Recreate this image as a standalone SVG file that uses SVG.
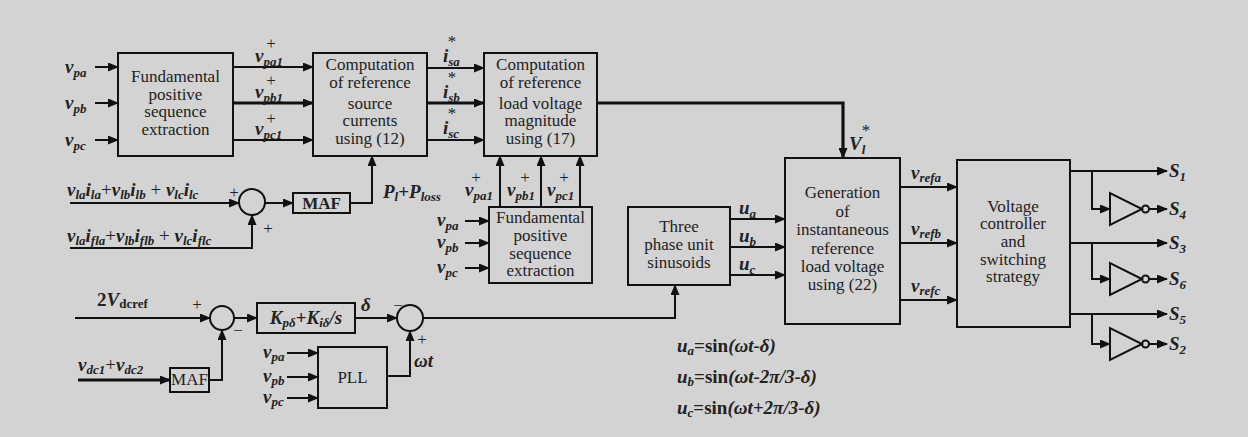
<svg xmlns="http://www.w3.org/2000/svg" width="1248" height="437" viewBox="0 0 1248 437">
<defs>
<marker id="ah" markerWidth="11" markerHeight="9" refX="10" refY="4.5" orient="auto" markerUnits="userSpaceOnUse"><path d="M0,0 L11,4.5 L0,9 z" fill="#111"/></marker>
<style>
.bx{fill:none;stroke:#111;stroke-width:2}
.ln{fill:none;stroke:#111;stroke-width:2}
.tk{stroke-width:3.2}
.t{font-family:"Liberation Serif",serif;font-size:17px;fill:#222;text-anchor:middle}
.m{font-family:"Liberation Serif",serif;font-style:italic;font-weight:bold;font-size:19px;fill:#222}
.s{font-size:13px}
.p{font-family:"Liberation Serif",serif;font-size:17px;fill:#222;text-anchor:middle}
</style>
</defs>
<rect width="1248" height="437" fill="#d3d3d3"/>

<g id="connectors">
<path class="ln" d="M95,67H118" marker-end="url(#ah)"/>
<path class="ln" d="M95,103H118" marker-end="url(#ah)"/>
<path class="ln" d="M95,140H118" marker-end="url(#ah)"/>
<path class="ln" d="M233,67H313" marker-end="url(#ah)"/>
<path class="ln tk" d="M233,103H313" marker-end="url(#ah)"/>
<path class="ln" d="M233,140H313" marker-end="url(#ah)"/>
<path class="ln" d="M427,68H484" marker-end="url(#ah)"/>
<path class="ln tk" d="M427,103H484" marker-end="url(#ah)"/>
<path class="ln" d="M427,140H484" marker-end="url(#ah)"/>
<path class="ln tk" d="M597,103H843V158" marker-end="url(#ah)"/>
<path class="ln" d="M70,203H239" marker-end="url(#ah)"/>
<path class="ln" d="M70,248H252V215" marker-end="url(#ah)"/>
<path class="ln" d="M265,203H293" marker-end="url(#ah)"/>
<path class="ln" d="M350,203H372V156" marker-end="url(#ah)"/>
<path class="ln" d="M465,221H489" marker-end="url(#ah)"/>
<path class="ln" d="M465,243H489" marker-end="url(#ah)"/>
<path class="ln" d="M465,268H489" marker-end="url(#ah)"/>
<path class="ln" d="M500,207V156" marker-end="url(#ah)"/>
<path class="ln" d="M541,207V156" marker-end="url(#ah)"/>
<path class="ln" d="M580,207V156" marker-end="url(#ah)"/>
<path class="ln" d="M730,219H785" marker-end="url(#ah)"/>
<path class="ln" d="M730,247H785" marker-end="url(#ah)"/>
<path class="ln" d="M730,275H785" marker-end="url(#ah)"/>
<path class="ln" d="M900,187H957" marker-end="url(#ah)"/>
<path class="ln" d="M900,243H957" marker-end="url(#ah)"/>
<path class="ln" d="M900,300H957" marker-end="url(#ah)"/>
<path class="ln" d="M1070,171H1167" marker-end="url(#ah)"/>
<path class="ln" d="M1092,171V209H1110" marker-end="url(#ah)"/>
<path class="ln" d="M1149,209H1167" marker-end="url(#ah)"/>
<path class="ln" d="M1070,243H1167" marker-end="url(#ah)"/>
<path class="ln" d="M1092,243V279H1110" marker-end="url(#ah)"/>
<path class="ln" d="M1149,279H1167" marker-end="url(#ah)"/>
<path class="ln" d="M1070,314H1167" marker-end="url(#ah)"/>
<path class="ln" d="M1092,314V344H1110" marker-end="url(#ah)"/>
<path class="ln" d="M1149,344H1167" marker-end="url(#ah)"/>
<path class="ln" d="M75,318H210" marker-end="url(#ah)"/>
<path class="ln tk" d="M78,380H170" marker-end="url(#ah)"/>
<path class="ln" d="M209,380H222V330" marker-end="url(#ah)"/>
<path class="ln" d="M234,318H257" marker-end="url(#ah)"/>
<path class="ln" d="M355,318H397" marker-end="url(#ah)"/>
<path class="ln" d="M287,353H318" marker-end="url(#ah)"/>
<path class="ln" d="M287,377H318" marker-end="url(#ah)"/>
<path class="ln" d="M287,398H318" marker-end="url(#ah)"/>
<path class="ln" d="M387,376H410V331" marker-end="url(#ah)"/>
<path class="ln" d="M423,318H675V285" marker-end="url(#ah)"/>
</g>

<g id="labels">
<text class="m" x="65" y="73">v<tspan class="s" dy="4">pa</tspan></text>
<text class="m" x="65" y="109">v<tspan class="s" dy="4">pb</tspan></text>
<text class="m" x="65" y="146">v<tspan class="s" dy="4">pc</tspan></text>
<text class="p" x="271" y="49" font-size="19">+</text>
<text class="m" x="255" y="62">v<tspan class="s" dy="4">pa1</tspan></text>
<text class="p" x="271" y="86" font-size="19">+</text>
<text class="m" x="255" y="98">v<tspan class="s" dy="4">pb1</tspan></text>
<text class="p" x="271" y="124" font-size="19">+</text>
<text class="m" x="255" y="135">v<tspan class="s" dy="4">pc1</tspan></text>
<text class="p" x="452" y="47" font-size="15">*</text>
<text class="m" x="443" y="62">i<tspan class="s" dy="4">sa</tspan></text>
<text class="p" x="452" y="83" font-size="15">*</text>
<text class="m" x="443" y="98">i<tspan class="s" dy="4">sb</tspan></text>
<text class="p" x="452" y="119" font-size="15">*</text>
<text class="m" x="443" y="134">i<tspan class="s" dy="4">sc</tspan></text>
<text class="m" x="849" y="150">V<tspan class="s" dy="4">l</tspan></text>
<text class="p" x="866" y="136">*</text>
<text class="m" x="67" y="196" font-size="20">v<tspan class="s" dy="3" font-size="14">la</tspan><tspan dy="-3">i</tspan><tspan class="s" dy="3" font-size="14">la</tspan><tspan dy="-3" font-weight="normal" font-style="normal">+</tspan>v<tspan class="s" dy="3" font-size="14">lb</tspan><tspan dy="-3">i</tspan><tspan class="s" dy="3" font-size="14">lb</tspan><tspan dy="-3" font-weight="normal" font-style="normal"> + </tspan>v<tspan class="s" dy="3" font-size="14">lc</tspan><tspan dy="-3">i</tspan><tspan class="s" dy="3" font-size="14">lc</tspan></text>
<text class="m" x="67" y="242" font-size="20">v<tspan class="s" dy="3" font-size="14">la</tspan><tspan dy="-3">i</tspan><tspan class="s" dy="3" font-size="14">fla</tspan><tspan dy="-3" font-weight="normal" font-style="normal">+</tspan>v<tspan class="s" dy="3" font-size="14">lb</tspan><tspan dy="-3">i</tspan><tspan class="s" dy="3" font-size="14">flb</tspan><tspan dy="-3" font-weight="normal" font-style="normal"> + </tspan>v<tspan class="s" dy="3" font-size="14">lc</tspan><tspan dy="-3">i</tspan><tspan class="s" dy="3" font-size="14">flc</tspan></text>
<text class="p" x="234" y="198" font-size="19">+</text>
<text class="p" x="268" y="234" font-size="19">+</text>
<text class="m" x="383" y="198" font-weight="normal">P<tspan class="s" dy="3">l</tspan><tspan dy="-3" font-style="normal">+</tspan>P<tspan class="s" dy="3">loss</tspan></text>
<text class="p" x="476" y="183" font-size="19">+</text>
<text class="m" x="465" y="196">v<tspan class="s" dy="4">pa1</tspan></text>
<text class="p" x="525" y="183" font-size="19">+</text>
<text class="m" x="507" y="196">v<tspan class="s" dy="4">pb1</tspan></text>
<text class="p" x="564" y="183" font-size="19">+</text>
<text class="m" x="547" y="196">v<tspan class="s" dy="4">pc1</tspan></text>
<text class="m" x="437" y="226">v<tspan class="s" dy="4">pa</tspan></text>
<text class="m" x="437" y="248">v<tspan class="s" dy="4">pb</tspan></text>
<text class="m" x="437" y="273">v<tspan class="s" dy="4">pc</tspan></text>
<text class="m" x="739" y="214">u<tspan class="s" dy="4">a</tspan></text>
<text class="m" x="739" y="242">u<tspan class="s" dy="4">b</tspan></text>
<text class="m" x="739" y="270">u<tspan class="s" dy="4">c</tspan></text>
<text class="m" x="911" y="179">v<tspan class="s" dy="3">refa</tspan></text>
<text class="m" x="911" y="235">v<tspan class="s" dy="3">refb</tspan></text>
<text class="m" x="911" y="292">v<tspan class="s" dy="3">refc</tspan></text>
<text class="m" x="1169" y="177" font-size="21">S<tspan class="s" dy="4">1</tspan></text>
<text class="m" x="1169" y="215" font-size="21">S<tspan class="s" dy="4">4</tspan></text>
<text class="m" x="1169" y="249" font-size="21">S<tspan class="s" dy="4">3</tspan></text>
<text class="m" x="1169" y="285" font-size="21">S<tspan class="s" dy="4">6</tspan></text>
<text class="m" x="1169" y="320" font-size="21">S<tspan class="s" dy="4">5</tspan></text>
<text class="m" x="1169" y="350" font-size="21">S<tspan class="s" dy="4">2</tspan></text>
<text class="m" x="97" y="306" font-weight="normal" font-size="20"><tspan font-style="normal">2</tspan>V<tspan class="s" font-style="normal" dy="2">dcref</tspan></text>
<text class="p" x="197" y="310">+</text>
<text class="p" x="238" y="336">−</text>
<text class="m" x="78" y="371">v<tspan class="s" dy="3">dc1</tspan><tspan dy="-3" font-weight="normal" font-style="normal">+</tspan>v<tspan class="s" dy="3">dc2</tspan></text>
<text class="m" x="361" y="311" font-weight="normal" font-size="20">δ</text>
<text class="p" x="398" y="311">−</text>
<text class="p" x="422" y="345">+</text>
<text class="m" x="414" y="367" font-weight="normal">ωt</text>
<text class="m" x="263" y="358">v<tspan class="s" dy="3">pa</tspan></text>
<text class="m" x="263" y="382">v<tspan class="s" dy="3">pb</tspan></text>
<text class="m" x="263" y="403">v<tspan class="s" dy="3">pc</tspan></text>
</g>

<g id="fpse1"><rect class="bx" x="118" y="53" width="115" height="103"/>
<text class="t" x="175.5" y="82">Fundamental</text><text class="t" x="175.5" y="100">positive</text><text class="t" x="175.5" y="117">sequence</text><text class="t" x="175.5" y="135">extraction</text></g>

<g id="crsc"><rect class="bx" x="313" y="53" width="114" height="103"/>
<text class="t" x="370" y="70" font-size="16">Computation</text><text class="t" x="370" y="88" font-size="16">of reference</text><text class="t" x="370" y="109" font-size="19">source</text><text class="t" x="370" y="126" font-size="15">currents</text><text class="t" x="370" y="144" font-size="18">using (12)</text></g>

<g id="crlvm"><rect class="bx" x="484" y="53" width="113" height="103"/>
<text class="t" x="540.5" y="70" font-size="16">Computation</text><text class="t" x="540.5" y="88" font-size="16">of reference</text><text class="t" x="540.5" y="109" font-size="19">load voltage</text><text class="t" x="540.5" y="126" font-size="15">magnitude</text><text class="t" x="540.5" y="144" font-size="18">using (17)</text></g>

<g id="sum1"><circle class="bx" cx="252" cy="202" r="13"/></g>
<g id="maf1"><rect class="bx" x="293" y="193" width="57" height="20" stroke-width="3"/><text class="t" x="321.5" y="209" font-weight="bold">MAF</text></g>

<g id="fpse2"><rect class="bx" x="489" y="207" width="103" height="76"/>
<text class="t" x="540.5" y="223">Fundamental</text><text class="t" x="540.5" y="241">positive</text><text class="t" x="540.5" y="259">sequence</text><text class="t" x="540.5" y="276">extraction</text></g>

<g id="tpus"><rect class="bx" x="628" y="207" width="102" height="78"/>
<text class="t" x="679" y="232">Three</text><text class="t" x="679" y="250">phase unit</text><text class="t" x="679" y="268">sinusoids</text></g>

<g id="gen"><rect class="bx" x="785" y="158" width="115" height="166"/>
<text class="t" x="842.5" y="198">Generation</text><text class="t" x="842.5" y="217">of</text><text class="t" x="842.5" y="235">instantaneous</text><text class="t" x="842.5" y="254">reference</text><text class="t" x="842.5" y="272">load voltage</text><text class="t" x="842.5" y="290">using (22)</text></g>

<g id="vcss"><rect class="bx" x="957" y="160" width="113" height="167"/>
<text class="t" x="1013" y="212">Voltage</text><text class="t" x="1013" y="229">controller</text><text class="t" x="1013" y="247">and</text><text class="t" x="1013" y="265">switching</text><text class="t" x="1013" y="282">strategy</text></g>

<g id="inv1"><path class="bx" d="M1110,193V225L1142,209z"/><circle class="bx" cx="1145.5" cy="209" r="3.5"/></g>
<g id="inv2"><path class="bx" d="M1110,263V295L1142,279z"/><circle class="bx" cx="1145.5" cy="279" r="3.5"/></g>
<g id="inv3"><path class="bx" d="M1110,328V360L1142,344z"/><circle class="bx" cx="1145.5" cy="344" r="3.5"/></g>

<g id="sum2"><circle class="bx" cx="222" cy="318" r="12"/></g>
<g id="maf2"><rect class="bx" x="170" y="368" width="39" height="24"/><text class="t" x="189.5" y="384.5" font-size="11">MAF</text></g>
<g id="pi"><rect class="bx" x="257" y="303" width="98" height="30"/>
<text class="m" x="306" y="324" font-weight="normal" text-anchor="middle">K<tspan class="s" dy="3">pδ</tspan><tspan dy="-3" font-style="normal">+</tspan>K<tspan class="s" dy="3">iδ</tspan><tspan dy="-3">/s</tspan></text></g>
<g id="sum3"><circle class="bx" cx="410" cy="318" r="13"/></g>
<g id="pll"><rect class="bx" x="318" y="347" width="69" height="61"/><text class="t" x="352.5" y="383">PLL</text></g>

<g id="equations">
<text class="m" x="677" y="352" font-size="20">u<tspan class="s" dy="3" font-size="14">a</tspan><tspan dy="-3" font-style="normal">=sin</tspan>(ωt-δ)</text>
<text class="m" x="677" y="383" font-size="20">u<tspan class="s" dy="3" font-size="14">b</tspan><tspan dy="-3" font-style="normal">=sin</tspan>(ωt-2π/3-δ)</text>
<text class="m" x="677" y="414" font-size="20">u<tspan class="s" dy="3" font-size="14">c</tspan><tspan dy="-3" font-style="normal">=sin</tspan>(ωt+2π/3-δ)</text>
</g>
</svg>
